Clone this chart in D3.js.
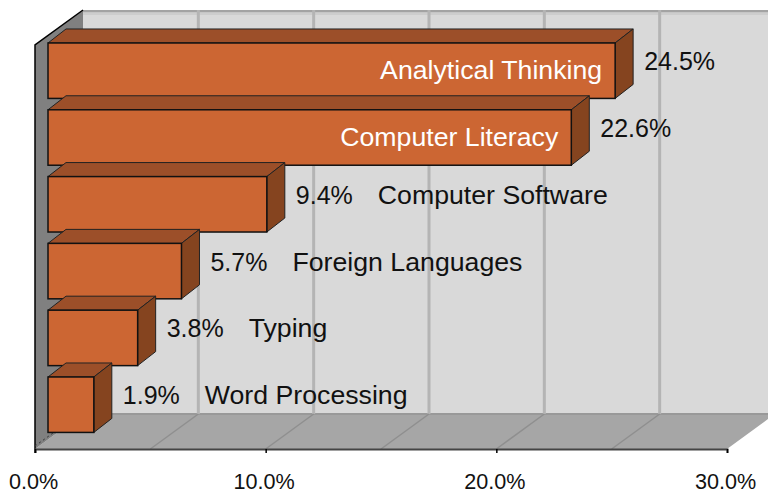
<!DOCTYPE html>
<html><head><meta charset="utf-8">
<script src="https://cdn.jsdelivr.net/npm/d3@7"></script>
<style>html,body{margin:0;background:#fff}svg{display:block}text{font-family:"Liberation Sans",Arial,sans-serif}</style>
</head><body><svg id="c" width="768" height="493"></svg>
<script>
const categories=["Analytical Thinking","Computer Literacy","Computer Software","Foreign Languages","Typing","Word Processing"];
const values=[24.5,22.6,9.4,5.7,3.8,1.9];
const insideLabel=[true,true,false,false,false,false];
const axisTicks=[0,10,20,30];
const gridTicks=[5,10,15,20,25,30];

const svg=d3.select("#c");
const x=d3.scaleLinear().domain([0,30]).range([35,727]);
const y=d3.scaleBand().domain(categories).range([37.3,438.1]).paddingInner(0.17).paddingOuter(0.085);
const floorY=449, depthX=48, depthY=35, barOffX=15, barDX=18, barDY=14;
const backTop=10, backBottom=floorY-depthY;
const poly=(pts,fill,stroke,sw)=>svg.append("polygon").attr("points",pts.map(p=>p.join(",")).join(" ")).attr("fill",fill).attr("stroke",stroke||"none").attr("stroke-width",sw||0);

// back wall
poly([[x(0)+depthX,backTop],[790,backTop],[790,backBottom],[x(0)+depthX,backBottom]],"#d9d9d9");
svg.append("rect").attr("x",x(0)+depthX).attr("y",backTop).attr("width",700).attr("height",2.5).attr("fill","#a3a3a3");
svg.append("rect").attr("x",x(0)+depthX).attr("y",backTop+2.5).attr("width",700).attr("height",2.5).attr("fill","#cdcdcd");
// floor
poly([[x(0),floorY],[x(30),floorY],[x(30)+depthX,backBottom],[790,backBottom],[790,backBottom],[x(0)+depthX,backBottom]],"#a6a6a6");
svg.append("line").attr("x1",x(0)+depthX).attr("x2",790).attr("y1",backBottom).attr("y2",backBottom).attr("stroke","#999").attr("stroke-width",2);
// grid
svg.append("g").selectAll("line").data(gridTicks).join("line")
  .attr("x1",d=>x(d)+depthX).attr("x2",d=>x(d)+depthX).attr("y1",backTop).attr("y2",backBottom)
  .attr("stroke","#b4b4b4").attr("stroke-width",3);
svg.append("g").selectAll("line").data(gridTicks.slice(0,5)).join("line")
  .attr("x1",d=>x(d)+depthX).attr("x2",d=>x(d)).attr("y1",backBottom).attr("y2",floorY)
  .attr("stroke","#8f8f8f").attr("stroke-width",1.5);
// left wall
poly([[x(0),45],[x(0)+depthX,backTop],[x(0)+depthX,backBottom],[x(0),floorY]],"#808080");
svg.append("path").attr("d",`M${x(0)},${floorY+4}V45L${x(0)+depthX},${backTop}`).attr("fill","none").attr("stroke","#000").attr("stroke-width",1.5);
svg.append("line").attr("x1",x(0)).attr("y1",floorY-3).attr("x2",x(0)+18).attr("y2",floorY-16).attr("stroke","#333").attr("stroke-width",1).attr("stroke-dasharray","2 3");
// bars, back-to-front order from the top
const bars=svg.append("g").selectAll("g").data(categories).join("g");
const x0=48;
const right=(i)=>x(values[i])+barOffX;
bars.each(function(c,i){
  const g=d3.select(this), t=y(c), b=t+y.bandwidth(), r=right(i);
  const P=(pts,fill)=>g.append("polygon").attr("points",pts.map(p=>p.join(",")).join(" ")).attr("fill",fill).attr("stroke","#222").attr("stroke-width",1).attr("stroke-linejoin","round");
  P([[x0,t],[x0+barDX,t-barDY],[r+barDX,t-barDY],[r,t]],"#9c4f29");
  P([[r,t],[r+barDX,t-barDY],[r+barDX,b-barDY],[r,b]],"#85441f");
  g.append("rect").attr("x",x0).attr("y",t).attr("width",r-x0).attr("height",b-t).attr("fill","#cc6633").attr("stroke","#111").attr("stroke-width",1.5);
});
// axis
const axis=d3.axisBottom(x).tickValues(axisTicks).tickFormat(d=>d.toFixed(1)+"%").tickSize(4).tickPadding(21);
const ax=svg.append("g").attr("transform",`translate(0,${floorY})`).call(axis);
ax.select(".domain").attr("stroke","#444").attr("stroke-width",2);
ax.selectAll("line").attr("stroke","#000").attr("stroke-width",1.5);
ax.selectAll("text").attr("font-size",21.6).attr("fill","#111").attr("dx",-2).style("font-family",'"Liberation Sans",Arial,sans-serif');
// labels
categories.forEach((c,i)=>{
  const t=y(c), r=right(i), fs=25, nameFs=26.7;
  const vx=r+barDX+11, vy=t+y.bandwidth()/2-9;
  svg.append("text").attr("x",vx).attr("y",vy+8.5).attr("font-size",fs).attr("fill","#111").text(values[i].toFixed(1)+"%");
  if(insideLabel[i]){
    svg.append("text").attr("x",r-13).attr("y",t+y.bandwidth()/2+8).attr("text-anchor","end").attr("font-size",nameFs).attr("fill","#fff").text(c);
  } else {
    svg.append("text").attr("x",vx+82).attr("y",vy+8.5).attr("font-size",nameFs).attr("fill","#111").text(c);
  }
});
</script></body></html>
